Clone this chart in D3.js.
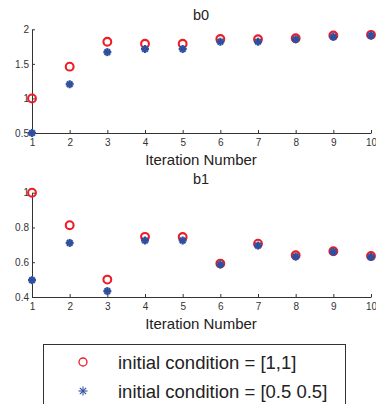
<!DOCTYPE html>
<html>
<head>
<meta charset="utf-8">
<script src="https://cdn.jsdelivr.net/npm/d3@7"></script>
<style>
body { margin: 0; background: #fff; }
svg { display: block; font-family: "Liberation Sans", Arial, sans-serif; }
.tick text { fill: #333; font-size: 10px; }
</style>
</head>
<body>
<div id="chart"></div>
<script>
var iterations = [1, 2, 3, 4, 5, 6, 7, 8, 9, 10];
var b0_init11 = [1.00, 1.46, 1.82, 1.79, 1.79, 1.86, 1.855, 1.87, 1.91, 1.92];
var b0_init05 = [0.50, 1.205, 1.67, 1.715, 1.715, 1.82, 1.82, 1.855, 1.89, 1.91];
var b1_init11 = [1.00, 0.813, 0.50, 0.746, 0.745, 0.592, 0.707, 0.64, 0.663, 0.636];
var b1_init05 = [0.497, 0.711, 0.434, 0.725, 0.725, 0.587, 0.696, 0.632, 0.66, 0.63];
var legendLabels = ["initial condition = [1,1]", "initial condition = [0.5 0.5]"];

var width = 376, height = 404;
var red = "#ee1c25", blue = "#2f4f9f", axisColor = "#333";

var svg = d3.select("#chart").append("svg")
    .attr("width", width)
    .attr("height", height);

var xScale = d3.scaleLinear().domain([1, 10]).range([32, 371]);

var panels = [
    { title: "b0", top: 29.3, bottom: 133, domain: [0.5, 2], ticks: [0.5, 1, 1.5, 2], a: b0_init11, b: b0_init05 },
    { title: "b1", top: 192.7, bottom: 297, domain: [0.4, 1], ticks: [0.4, 0.6, 0.8, 1], a: b1_init11, b: b1_init05 }
];

// asterisk marker
function star(g, s) {
    g.append("line").attr("x1", -s).attr("x2", s).attr("y1", 0).attr("y2", 0);
    g.append("line").attr("x1", 0).attr("x2", 0).attr("y1", -s).attr("y2", s);
    g.append("line").attr("x1", -s * 0.7).attr("x2", s * 0.7).attr("y1", -s * 0.7).attr("y2", s * 0.7);
    g.append("line").attr("x1", -s * 0.7).attr("x2", s * 0.7).attr("y1", s * 0.7).attr("y2", -s * 0.7);
}

panels.forEach(function (p) {
    var yScale = d3.scaleLinear().domain(p.domain).range([p.bottom, p.top]);
    var g = svg.append("g");

    var xAxis = g.append("g")
        .attr("transform", `translate(0, ${p.bottom})`)
        .call(d3.axisBottom(xScale).tickValues(iterations).tickSizeInner(-3).tickSizeOuter(0).tickPadding(6));
    xAxis.select(".domain").attr("stroke", axisColor);
    xAxis.selectAll(".tick line").attr("stroke", axisColor);

    var yAxis = g.append("g")
        .attr("transform", `translate(${xScale(1)}, 0)`)
        .call(d3.axisLeft(yScale).tickValues(p.ticks).tickFormat(d3.format("")).tickSizeInner(-3).tickSizeOuter(0).tickPadding(3));
    yAxis.select(".domain").attr("stroke", axisColor);
    yAxis.selectAll(".tick line").attr("stroke", axisColor);

    g.append("text")
        .attr("x", 201).attr("y", p.top - 9)
        .attr("text-anchor", "middle")
        .attr("font-size", 14.5)
        .attr("fill", "#222")
        .text(p.title);

    g.append("text")
        .attr("x", 201).attr("y", p.bottom + 32)
        .attr("text-anchor", "middle")
        .attr("font-size", 15)
        .attr("fill", "#222")
        .text("Iteration Number");

    g.selectAll(".red")
        .data(iterations)
        .enter()
        .append("circle")
        .attr("cx", function (d) { return xScale(d); })
        .attr("cy", function (d, i) { return yScale(p.a[i]); })
        .attr("r", 3.9)
        .attr("fill", "none")
        .attr("stroke", red)
        .attr("stroke-width", 2.1);

    g.selectAll(".blue")
        .data(iterations)
        .enter()
        .append("g")
        .attr("transform", function (d, i) { return `translate(${xScale(d)}, ${yScale(p.b[i])})`; })
        .attr("stroke", blue)
        .attr("stroke-width", 2.3)
        .each(function () { star(d3.select(this), 4); });
});

// legend
var legend = svg.append("g");
legend.append("rect")
    .attr("x", 43.5).attr("y", 344.5)
    .attr("width", 302).attr("height", 80)
    .attr("fill", "#fff")
    .attr("stroke", axisColor)
    .attr("stroke-width", 1);

legend.append("circle")
    .attr("cx", 83).attr("cy", 362)
    .attr("r", 4)
    .attr("fill", "none")
    .attr("stroke", red)
    .attr("stroke-width", 1.3);

var ls = legend.append("g")
    .attr("transform", "translate(83, 391)")
    .attr("stroke", blue)
    .attr("stroke-width", 1.1);
star(ls, 4.5);

legend.selectAll(".lbl")
    .data(legendLabels)
    .enter()
    .append("text")
    .attr("x", 118)
    .attr("y", function (d, i) { return 368.5 + i * 29; })
    .attr("font-size", 18.5)
    .attr("fill", "#222")
    .text(function (d) { return d; });
</script>
</body>
</html>
